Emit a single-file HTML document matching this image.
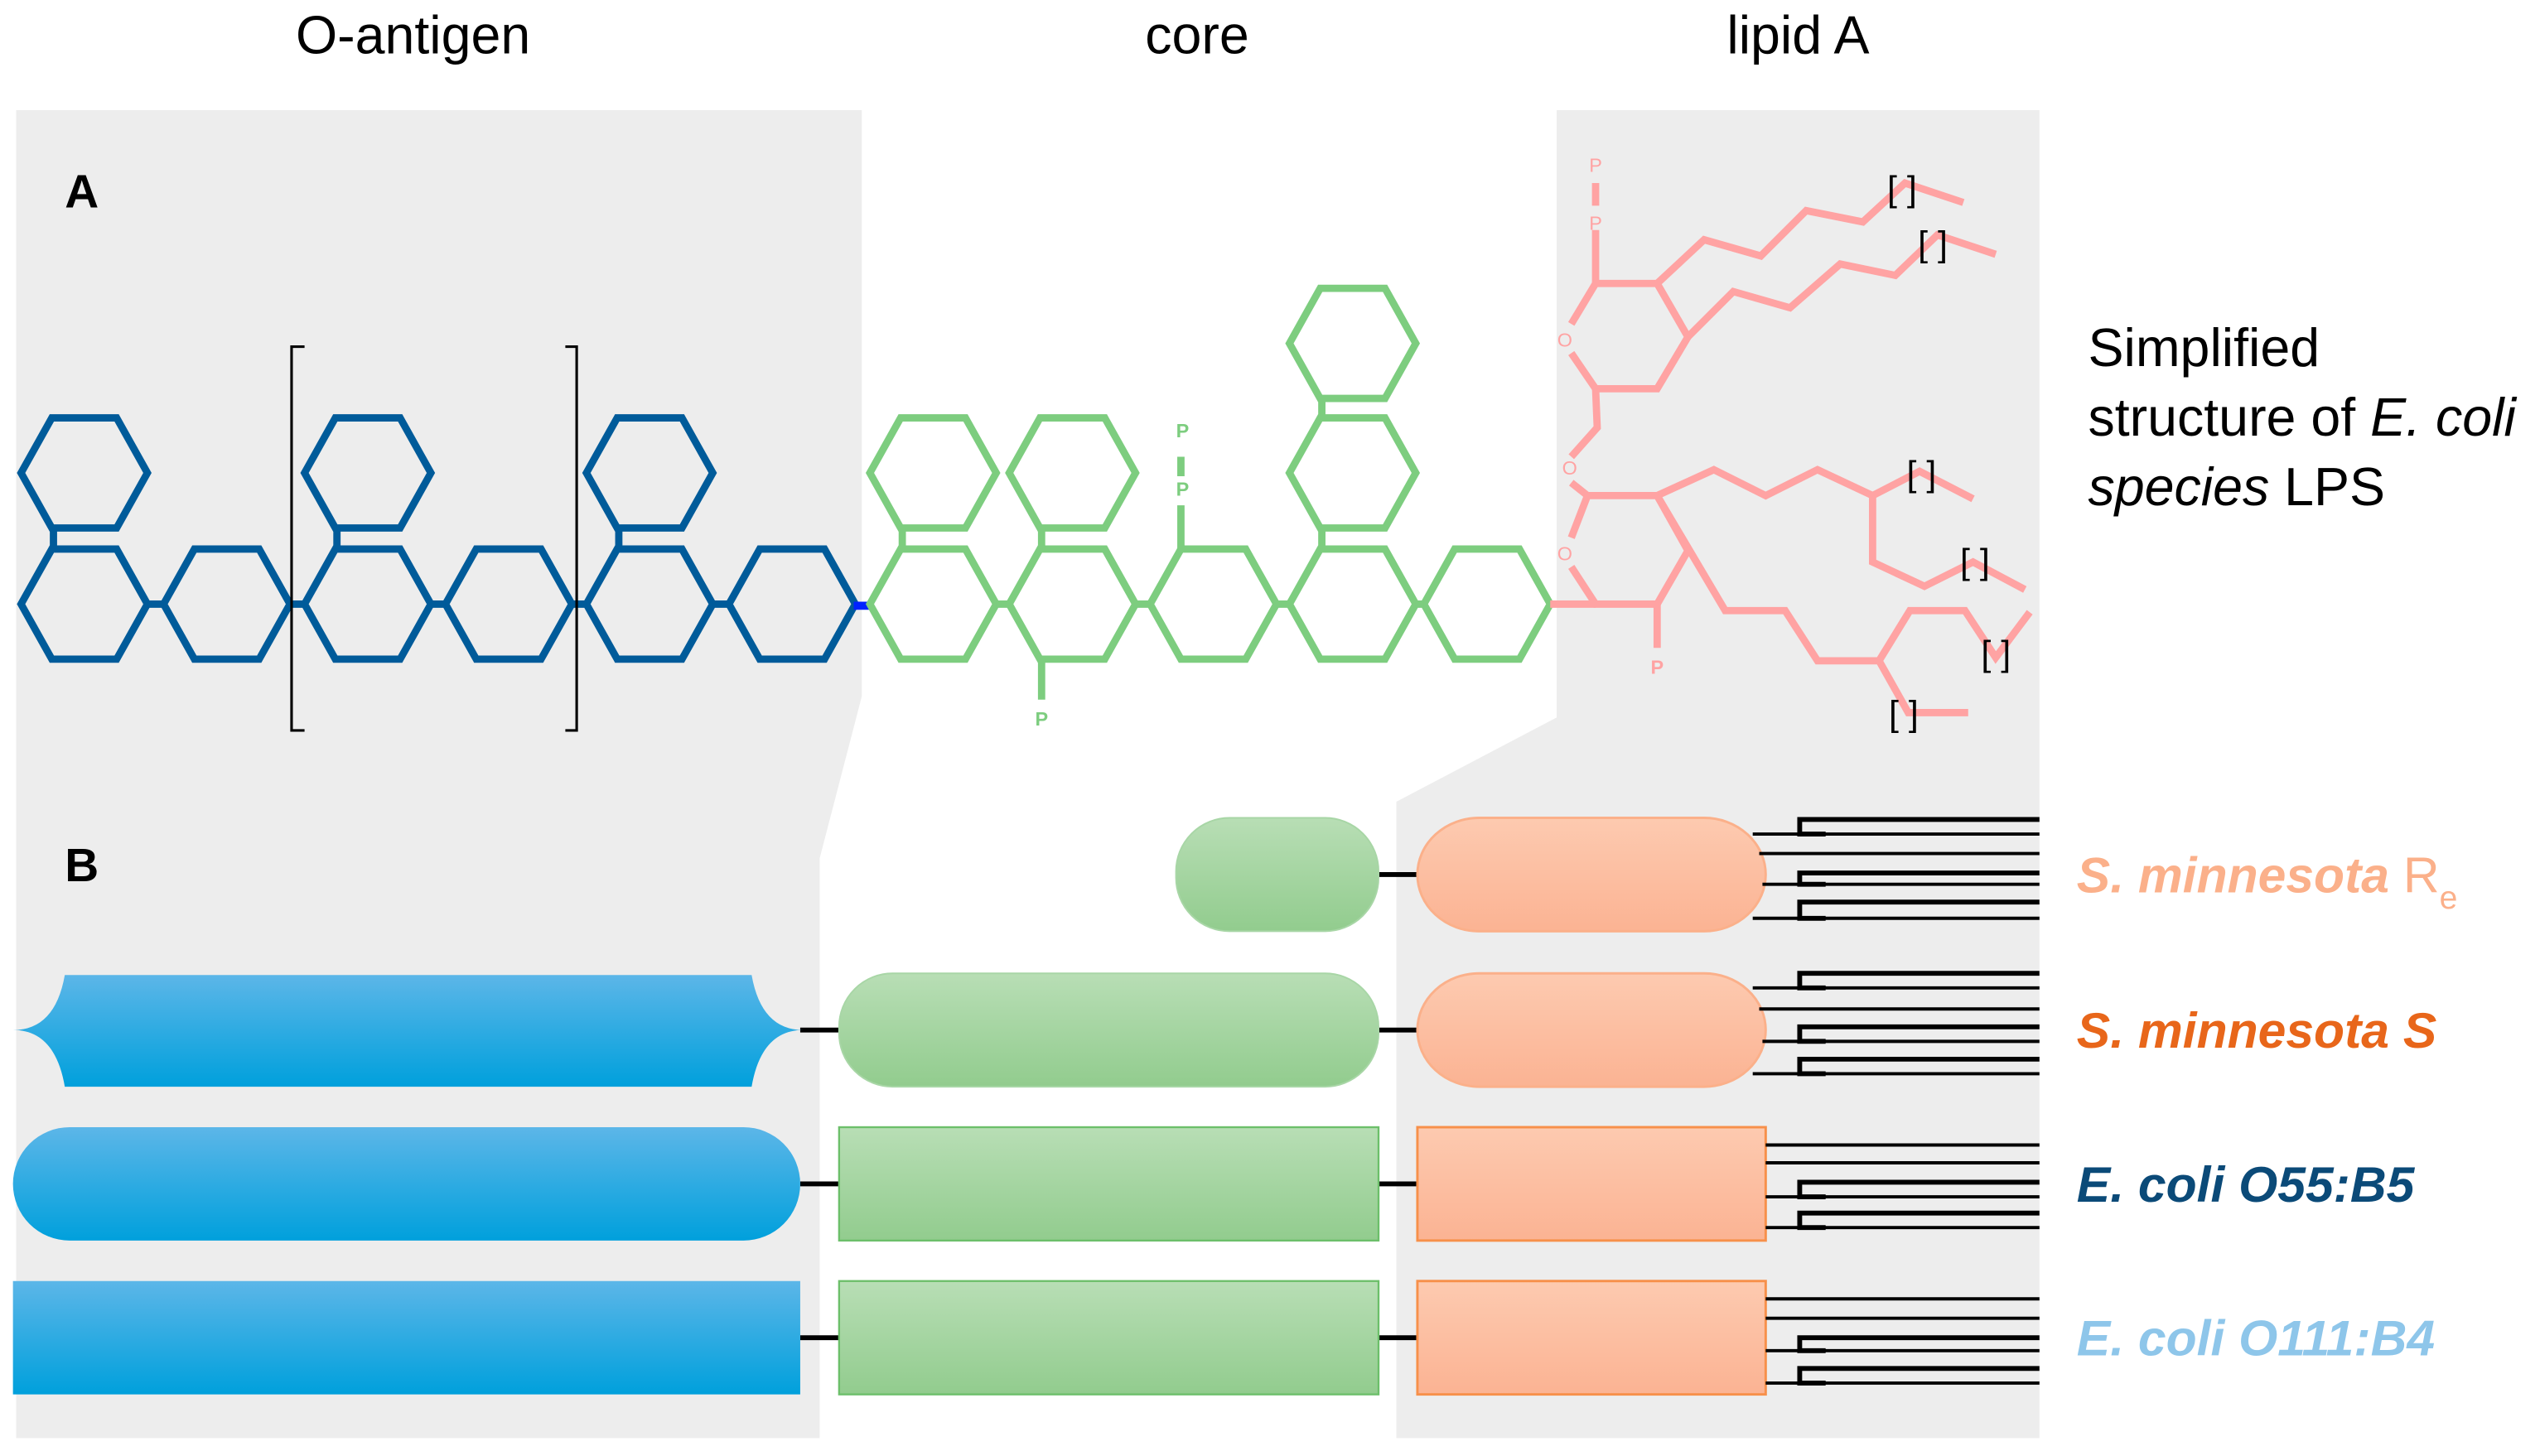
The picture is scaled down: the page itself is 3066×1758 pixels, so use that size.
<!DOCTYPE html>
<html><head><meta charset="utf-8"><style>
html,body{margin:0;padding:0;background:#fff;}
svg{display:block;}
text{font-family:"Liberation Sans",sans-serif;}
</style></head><body>
<svg width="3066" height="1758" viewBox="0 0 1568 899" xmlns="http://www.w3.org/2000/svg">
<defs>
<polygon id="hx" points="-39,0 -20,-34 20,-34 39,0 20,34 -20,34"/>
<linearGradient id="gb" x1="0" y1="0" x2="0" y2="1"><stop offset="0" stop-color="#5cb6e8"/><stop offset="1" stop-color="#00a0dc"/></linearGradient>
<linearGradient id="gg" x1="0" y1="0" x2="0" y2="1"><stop offset="0" stop-color="#b8deb5"/><stop offset="1" stop-color="#92cc8e"/></linearGradient>
<linearGradient id="gs" x1="0" y1="0" x2="0" y2="1"><stop offset="0" stop-color="#fdcab0"/><stop offset="1" stop-color="#fbb393"/></linearGradient>
</defs>
<polygon points="10,68 532,68 532,430 506,530 506,888 10,888" fill="#ededed"/>
<polygon points="961,68 1259,68 1259,888 862,888 862,495 961,443" fill="#ededed"/>
<text x="255" y="33" font-size="33" text-anchor="middle">O-antigen</text>
<text x="739" y="33" font-size="33" text-anchor="middle">core</text>
<text x="1110" y="33" font-size="33" text-anchor="middle">lipid A</text>
<text x="40" y="128" font-size="29" font-weight="bold">A</text>
<text x="40" y="544" font-size="29" font-weight="bold">B</text>
<text x="1289" y="226" font-size="33">Simplified</text>
<text x="1289" y="269" font-size="33">structure of <tspan font-style="italic">E. coli</tspan></text>
<text x="1289" y="312" font-size="33"><tspan font-style="italic">species</tspan> LPS</text>
<g fill="none" stroke="#005b9a" stroke-width="4.5" stroke-linejoin="miter">
<use href="#hx" x="52" y="373"/><use href="#hx" x="52" y="292"/>
<use href="#hx" x="140" y="373"/>
<use href="#hx" x="227" y="373"/><use href="#hx" x="227" y="292"/>
<use href="#hx" x="314" y="373"/>
<use href="#hx" x="401" y="373"/><use href="#hx" x="401" y="292"/>
<use href="#hx" x="489" y="373"/>
<path d="M33,326V339 M208,326V339 M382,326V339 M91,373H101 M179,373H188 M266,373H275 M353,373H362 M440,373H450"/>
</g>
<path d="M527,374H538" stroke="#0022ff" stroke-width="5"/>
<g fill="none" stroke="#000" stroke-width="1.6">
<path d="M188,214H180V451H188 M349,214H356V451H349"/>
</g>
<g fill="none" stroke="#7dcd7f" stroke-width="4.5">
<use href="#hx" x="576" y="373"/><use href="#hx" x="576" y="292"/>
<use href="#hx" x="662" y="373"/><use href="#hx" x="662" y="292"/>
<use href="#hx" x="749" y="373"/>
<use href="#hx" x="835" y="373"/><use href="#hx" x="835" y="292"/><use href="#hx" x="835" y="212"/>
<use href="#hx" x="918" y="373"/>
<path d="M557,326V339 M643,326V339 M816,326V339 M816,246V258 M615,373H623 M701,373H710 M788,373H796 M874,373H879 M729,339V312 M729,294V282 M643,407V432"/>
</g>
<g fill="#7dcd7f" font-size="12" font-weight="bold" text-anchor="middle">
<text x="730" y="270">P</text><text x="730" y="306">P</text><text x="643" y="448">P</text>
</g>
<g fill="none" stroke="#ffa3a3" stroke-width="4.5" stroke-linejoin="miter">
<path d="M957,373H985"/>
<path d="M970,200L985,175H1023L1042,208L1023,240H985L970,218"/>
<path d="M985,175V142 M985,127V113"/>
<path d="M1023,175L1052,148L1087,158L1115,130L1150,137L1176,113L1212,125"/>
<path d="M1042,208L1070,180L1105,190L1136,163L1170,170L1196,145L1232,157"/>
<path d="M985,240L986,264L970,282"/>
<path d="M970,298L980,306H1023L1042,340L1023,373H985L970,350 M970,332L980,306"/>
<path d="M1023,306L1058,290L1090,306L1122,290L1156,306L1185,291L1218,308"/>
<path d="M1156,306V347L1188,362L1218,347L1250,364"/>
<path d="M1023,306L1065,377H1102L1122,408H1160L1179,377H1213L1232,406L1253,378"/>
<path d="M1160,408L1178,440H1215"/>
<path d="M1023,373V400"/>
</g>
<g fill="#ffa3a3" font-size="12" text-anchor="middle">
<text x="985" y="106">P</text><text x="985" y="142">P</text>
<text x="966" y="214">O</text><text x="969" y="293">O</text><text x="966" y="346">O</text>
<text x="1023" y="416" font-weight="bold">P</text>
</g>
<g fill="#000" font-size="22">
<text x="1165" y="124">[ ]</text><text x="1184" y="158">[ ]</text>
<text x="1177" y="300">[ ]</text><text x="1210" y="354">[ ]</text>
<text x="1223" y="411">[ ]</text><text x="1166" y="448">[ ]</text>
</g>
<g stroke="#000" stroke-width="3">
<path d="M851,540H876 M494,636H519 M851,636H876 M494,731H519 M851,731H876 M494,826H519 M851,826H876"/>
</g>
<rect x="726" y="505" width="125" height="70" rx="33" fill="url(#gg)" stroke="#a8d6a6" stroke-width="1"/>
<rect x="875" y="505" width="215" height="70" rx="38" fill="url(#gs)" stroke="#fbb08a" stroke-width="1.5"/>
<path d="M40,602H464Q470,636 496,636Q470,636 464,671H40Q34,636 8,636Q34,636 40,602Z" fill="url(#gb)"/>
<rect x="518" y="601" width="333" height="70" rx="33" fill="url(#gg)" stroke="#a8d6a6" stroke-width="1"/>
<rect x="875" y="601" width="215" height="70" rx="38" fill="url(#gs)" stroke="#fbb08a" stroke-width="1.5"/>
<rect x="8" y="696" width="486" height="70" rx="35" fill="url(#gb)"/>
<rect x="518" y="696" width="333" height="70" fill="url(#gg)" stroke="#6cbf6a" stroke-width="1.2"/>
<rect x="875" y="696" width="215" height="70" fill="url(#gs)" stroke="#f7904a" stroke-width="1.5"/>
<rect x="8" y="791" width="486" height="70" fill="url(#gb)"/>
<rect x="518" y="791" width="333" height="70" fill="url(#gg)" stroke="#6cbf6a" stroke-width="1.2"/>
<rect x="875" y="791" width="215" height="70" fill="url(#gs)" stroke="#f7904a" stroke-width="1.5"/>
<g fill="none" stroke="#000">
<g stroke-width="3">
<path d="M1259,506H1111V515H1127 M1259,539H1111V546H1127 M1259,557H1111V567H1127"/>
<path d="M1259,601H1111V610H1127 M1259,634H1111V643H1127 M1259,654H1111V663H1127"/>
<path d="M1259,730H1111V739H1127 M1259,749H1111V758H1127"/>
<path d="M1259,826H1111V834H1127 M1259,845H1111V854H1127"/>
</g>
<g stroke-width="2">
<path d="M1082,515H1259 M1086,527H1259 M1088,546H1259 M1082,567H1259"/>
<path d="M1082,610H1259 M1086,623H1259 M1088,643H1259 M1082,663H1259"/>
<path d="M1090,707H1259 M1090,718H1259 M1090,739H1259 M1090,758H1259"/>
<path d="M1090,802H1259 M1090,814H1259 M1090,834H1259 M1090,854H1259"/>
</g>
</g>
<g font-size="31" font-weight="bold" font-style="italic">
<text x="1282" y="551" fill="#fbb08a">S. minnesota <tspan font-style="normal" font-weight="normal">R</tspan><tspan font-style="normal" font-weight="normal" font-size="20" dy="10">e</tspan></text>
<text x="1282" y="647" fill="#e8661a">S. minnesota S</text>
<text x="1282" y="742" fill="#0b4a78">E. coli O55:B5</text>
<text x="1282" y="837" fill="#8ec6ea">E. coli O111:B4</text>
</g>
</svg>
</body></html>
